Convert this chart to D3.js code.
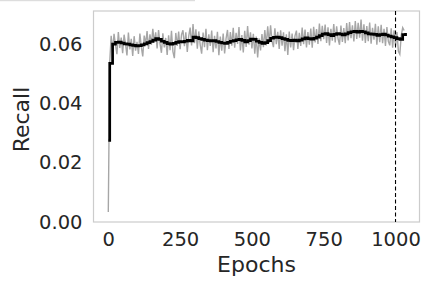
<!DOCTYPE html>
<html>
<head>
<meta charset="utf-8">
<script src="https://cdn.jsdelivr.net/npm/d3@7"></script>
<style>
  html, body { margin: 0; padding: 0; background: #fff; }
  svg { display: block; }
  text { font-family: "DejaVu Sans", sans-serif; fill: #262626; }
</style>
</head>
<body>
<svg id="chart" width="432" height="288"></svg>
<script>
// ---- data ----
const xTicks = [0, 250, 500, 750, 1000];
const yTicks = [0.00, 0.02, 0.04, 0.06];
const xLabel = "Epochs";
const yLabel = "Recall";
const markerEpoch = 1000;

// raw recall, sampled every 5 epochs (0..1030)
const rawStep = 5;
const rawRecall = [
  0.0034, 0.0540, 0.0628, 0.0575, 0.0635, 0.0598, 0.0566, 0.0641, 0.0587, 0.0622,
  0.0570, 0.0632, 0.0601, 0.0562, 0.0639, 0.0582, 0.0618, 0.0560, 0.0627, 0.0578,
  0.0608, 0.0567, 0.0636, 0.0590, 0.0559, 0.0629, 0.0600, 0.0644, 0.0584, 0.0633,
  0.0598, 0.0652, 0.0605, 0.0640, 0.0586, 0.0648, 0.0602, 0.0571, 0.0637, 0.0589,
  0.0621, 0.0564, 0.0630, 0.0580, 0.0645, 0.0575, 0.0553, 0.0638, 0.0594, 0.0643,
  0.0583, 0.0632, 0.0647, 0.0593, 0.0640, 0.0574, 0.0627, 0.0656, 0.0596, 0.0668,
  0.0603, 0.0650, 0.0585, 0.0643, 0.0598, 0.0568, 0.0639, 0.0590, 0.0652, 0.0580,
  0.0633, 0.0594, 0.0646, 0.0573, 0.0628, 0.0586, 0.0642, 0.0563, 0.0626, 0.0578,
  0.0636, 0.0569, 0.0619, 0.0648, 0.0584, 0.0641, 0.0595, 0.0655, 0.0588, 0.0638,
  0.0601, 0.0658, 0.0579, 0.0631, 0.0572, 0.0645, 0.0591, 0.0661, 0.0598, 0.0640,
  0.0586, 0.0635, 0.0568, 0.0626, 0.0555, 0.0620, 0.0579, 0.0634, 0.0590, 0.0648,
  0.0596, 0.0660, 0.0604, 0.0664, 0.0610, 0.0590, 0.0654, 0.0600, 0.0642, 0.0584,
  0.0647, 0.0595, 0.0640, 0.0576, 0.0633, 0.0564, 0.0643, 0.0589, 0.0636, 0.0580,
  0.0628, 0.0646, 0.0584, 0.0638, 0.0594, 0.0656, 0.0600, 0.0649, 0.0589, 0.0641,
  0.0598, 0.0653, 0.0588, 0.0659, 0.0606, 0.0651, 0.0601, 0.0670, 0.0610, 0.0662,
  0.0617, 0.0666, 0.0604, 0.0657, 0.0596, 0.0652, 0.0612, 0.0668, 0.0606, 0.0660,
  0.0618, 0.0598, 0.0663, 0.0608, 0.0654, 0.0603, 0.0671, 0.0613, 0.0675, 0.0620,
  0.0664, 0.0609, 0.0678, 0.0618, 0.0672, 0.0622, 0.0683, 0.0612, 0.0667, 0.0604,
  0.0661, 0.0610, 0.0673, 0.0602, 0.0655, 0.0615, 0.0669, 0.0598, 0.0660, 0.0607,
  0.0665, 0.0603, 0.0652, 0.0594, 0.0658, 0.0610, 0.0596, 0.0654, 0.0588, 0.0647,
  0.0595, 0.0641, 0.0576, 0.0566, 0.0630, 0.0656, 0.0646
];

// smoothed recall (step line)
const smoothEpochs = [0, 5].concat(d3.range(15, 1036, 10));
const smoothRecall = [
  0.0275, 0.0535,
  0.0600, 0.0606, 0.0607, 0.0604, 0.0601, 0.0600, 0.0598, 0.0596, 0.0594, 0.0595,
  0.0598, 0.0601, 0.0605, 0.0609, 0.0614, 0.0619, 0.0616, 0.0610, 0.0606, 0.0602,
  0.0600, 0.0603, 0.0606, 0.0609, 0.0608, 0.0610, 0.0613, 0.0611, 0.0624, 0.0622,
  0.0619, 0.0616, 0.0614, 0.0612, 0.0611, 0.0612, 0.0609, 0.0606, 0.0604, 0.0603,
  0.0606, 0.0610, 0.0612, 0.0615, 0.0616, 0.0613, 0.0608, 0.0612, 0.0617, 0.0616,
  0.0610, 0.0606, 0.0603, 0.0605, 0.0612, 0.0620, 0.0623, 0.0624, 0.0622, 0.0619,
  0.0616, 0.0613, 0.0612, 0.0614, 0.0611, 0.0614, 0.0618, 0.0621, 0.0619, 0.0617,
  0.0620, 0.0624, 0.0629, 0.0634, 0.0636, 0.0632, 0.0629, 0.0633, 0.0636, 0.0634,
  0.0631, 0.0635, 0.0639, 0.0642, 0.0643, 0.0641, 0.0643, 0.0642, 0.0638, 0.0635,
  0.0634, 0.0633, 0.0630, 0.0632, 0.0634, 0.0631, 0.0627, 0.0625, 0.0622, 0.0619,
  0.0616, 0.0632, 0.0638
];

// ---- layout ----
const svg = d3.select("#chart");
const L = 93.5, R = 419.5, T = 11, B = 222;

const x = d3.scaleLinear().domain([-51.5, 1083.5]).range([L, R]);
const y = d3.scaleLinear().domain([0, 0.0712]).range([B, T]);

// stray light line at the very top-left (present in reference)
svg.append("rect").attr("x", 0).attr("y", 0).attr("width", 195).attr("height", 1.2)
  .attr("fill", "#dddddd");

// frame
svg.append("rect").attr("x", L).attr("y", T).attr("width", R - L).attr("height", B - T)
  .attr("fill", "none").attr("stroke", "#cccccc").attr("stroke-width", 1.2);

const rawData = rawRecall.map((v, i) => [i * rawStep, v]);
const n = Math.min(smoothEpochs.length, smoothRecall.length);
const smoothData = d3.range(n).map(i => [smoothEpochs[i], smoothRecall[i]]);

svg.append("clipPath").attr("id", "clip")
  .append("rect").attr("x", L).attr("y", T).attr("width", R - L).attr("height", B - T);

const g = svg.append("g").attr("clip-path", "url(#clip)");

g.append("path").datum(rawData)
  .attr("d", d3.line().x(d => x(d[0])).y(d => y(d[1])))
  .attr("fill", "none").attr("stroke", "#a6a6a6").attr("stroke-width", 1.4);

g.append("path").datum(smoothData)
  .attr("d", d3.line().curve(d3.curveStepAfter).x(d => x(d[0])).y(d => y(d[1])))
  .attr("fill", "none").attr("stroke", "#000").attr("stroke-width", 2.7)
  .attr("stroke-linejoin", "miter");

g.append("line")
  .attr("x1", x(markerEpoch)).attr("x2", x(markerEpoch))
  .attr("y1", T).attr("y2", B)
  .attr("stroke", "#000").attr("stroke-width", 1.1).attr("stroke-dasharray", "4,2.5");

// axes (labels only, no tick lines)
const xAxis = d3.axisBottom(x).tickValues(xTicks).tickFormat(d3.format("d")).tickSize(0).tickPadding(10);
const gx = svg.append("g").attr("transform", `translate(0,${B})`).call(xAxis);
gx.select(".domain").remove();
gx.selectAll("text").style("font-size", "19.5px").attr("fill", "#262626")
  .style("font-family", "DejaVu Sans, sans-serif");

const yAxis = d3.axisLeft(y).tickValues(yTicks).tickFormat(d3.format(".2f")).tickSize(0).tickPadding(11);
const gy = svg.append("g").attr("transform", `translate(${L},0)`).call(yAxis);
gy.select(".domain").remove();
gy.selectAll("text").style("font-size", "19.5px").attr("fill", "#262626")
  .style("font-family", "DejaVu Sans, sans-serif");

svg.append("text").attr("x", (L + R) / 2).attr("y", 272)
  .attr("text-anchor", "middle").style("font-size", "22px").text(xLabel);

svg.append("text").attr("transform", `translate(29,${(T + B) / 2 + 3}) rotate(-90)`)
  .attr("text-anchor", "middle").style("font-size", "22px").text(yLabel);
</script>
</body>
</html>
